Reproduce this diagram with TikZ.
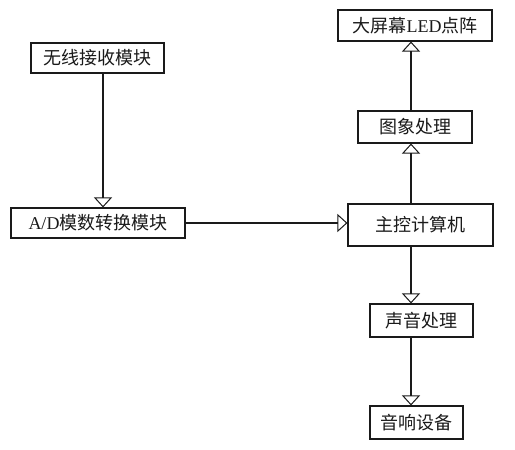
\documentclass[tikz,border=0pt]{standalone}
\usepackage{fontspec}
\setmainfont{Liberation Serif}
\newfontfamily\cjk{Noto Sans CJK SC}
\usepackage{tikz}
\usetikzlibrary{calc, positioning, arrows.meta}
\definecolor{inkLine}{HTML}{1A1A1A}
\definecolor{paperBg}{HTML}{FFFFFF}

\begin{document}
\begin{tikzpicture}[x=1pt, y=1pt,
    block/.style={draw=inkLine, line width=1.1pt, fill=paperBg, inner sep=0pt,
                  font=\fontsize{18}{20}\selectfont, text=inkLine},
    flow/.style={draw=inkLine, line width=1.1pt,
                 -{Triangle[open, width=18pt, length=10pt, line width=1pt]}}]
        \useasboundingbox (0,0) rectangle (515,450);
        % left column
        \node[block, minimum width=133pt, minimum height=30pt] (wireless) at (97.5,392) {\cjk 无线接收模块};
        \node[block, minimum width=174pt, minimum height=30pt] (adconv) at (98,227) {A/D{\cjk 模数转换模块}};
        % right column
        \node[block, minimum width=154pt, minimum height=31pt] (ledpanel) at (415,424.5) {{\cjk 大屏幕}LED{\cjk 点阵}};
        \node[block, minimum width=114pt, minimum height=32pt] (imageproc) at (415,323) {\cjk 图象处理};
        \node[block, minimum width=145pt, minimum height=42pt] (hostpc) at (420.5,225) {\cjk 主控计算机};
        \node[block, minimum width=103pt, minimum height=33pt] (soundproc) at (421.5,129.5) {\cjk 声音处理};
        \node[block, minimum width=93pt, minimum height=33pt] (speaker) at (416.5,27.5) {\cjk 音响设备};
        \coordinate (leftx) at (103,0);
        \coordinate (rightx) at (411,0);
        % connectors
        \draw[flow] (wireless.south -| leftx) -- (adconv.north -| leftx);
        \draw[flow] (adconv.east) -- (adconv.east -| hostpc.west);
        \draw[flow] (hostpc.north -| rightx) -- (imageproc.south -| rightx);
        \draw[flow] (imageproc.north -| rightx) -- (ledpanel.south -| rightx);
        \draw[flow] (hostpc.south -| rightx) -- (soundproc.north -| rightx);
        \draw[flow] (soundproc.south -| rightx) -- (speaker.north -| rightx);
      \end{tikzpicture}
\end{document}
